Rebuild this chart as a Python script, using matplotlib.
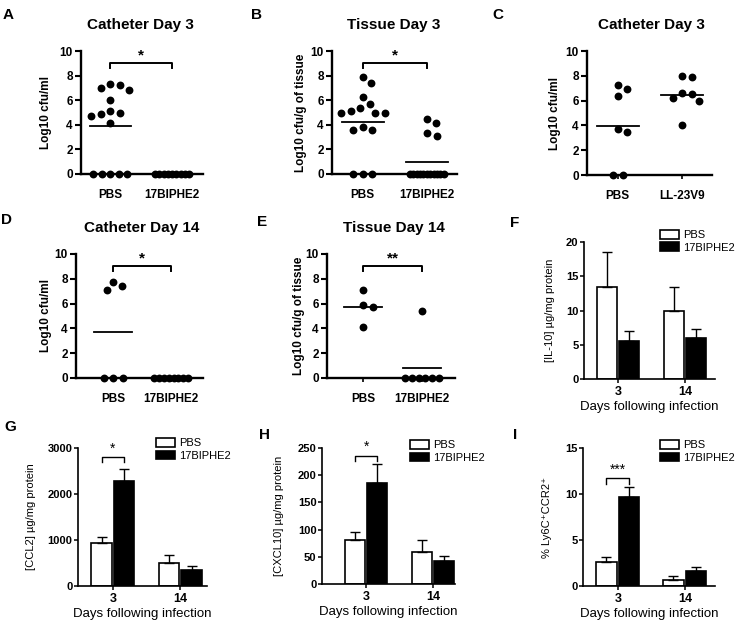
import numpy as np
import matplotlib
matplotlib.use("Agg")
import matplotlib.pyplot as plt
from matplotlib.patches import Patch

plt.rcParams['font.family'] = ['Liberation Sans', 'DejaVu Sans']

# ----------------------------
# Data
# ----------------------------
# A - Catheter Day 3
a_pbs = [7.2, 6.85, 7.0, 7.3, 6.0, 4.95, 4.7, 5.15, 4.85, 4.15, 0, 0, 0, 0, 0]
a_bip = [0, 0, 0, 0, 0, 0, 0, 0, 0]
# B - Tissue Day 3
b_pbs = [7.4, 7.85, 6.3, 5.35, 5.0, 4.95, 5.0, 5.1, 5.7, 3.55, 3.55, 3.85, 0, 0, 0]
b_bip = [4.15, 4.45, 3.3, 3.1, 0, 0, 0, 0, 0, 0, 0, 0, 0, 0, 0]
# C - Catheter Day 3, LL-23V9
c_pbs = [7.25, 6.9, 6.4, 3.75, 3.5, 0, 0]
c_ll = [7.9, 7.95, 6.6, 6.25, 5.95, 6.5, 4.0]
# D - Catheter Day 14
d_pbs = [7.4, 7.1, 7.75, 0, 0, 0]
d_bip = [0, 0, 0, 0, 0, 0, 0, 0]
# E - Tissue Day 14
e_pbs = [7.1, 5.85, 5.75, 4.1]
e_bip = [5.4, 0, 0, 0, 0, 0, 0]

days = ["3", "14"]
# F - IL-10
f_pbs, f_pbs_err = [13.5, 10.0], [5.1, 3.4]
f_bip, f_bip_err = [5.6, 6.0], [1.4, 1.3]
# G - CCL2
g_pbs, g_pbs_err = [925, 510], [145, 160]
g_bip, g_bip_err = [2285, 355], [265, 80]
# H - CXCL10
h_pbs, h_pbs_err = [81, 58], [14, 23]
h_bip, h_bip_err = [186, 42], [35, 9]
# I - Ly6C+CCR2+
i_pbs, i_pbs_err = [2.62, 0.69], [0.55, 0.37]
i_bip, i_bip_err = [9.65, 1.6], [1.15, 0.47]

W, H = 739, 620
fig = plt.figure(figsize=(W / 100, H / 100), dpi=100)


def px_axes(l, t, r, b):
    return fig.add_axes([l / W, 1 - b / H, (r - l) / W, (b - t) / H])


def swarm(vals, sx, sy, d=10.0, zero_max=34.0):
    # simple beeswarm offsets (in pixels), zero row spread evenly
    vals = np.asarray(vals, float)
    xs = np.zeros(len(vals))
    zero = vals == 0
    nz = zero.sum()
    if nz > 1:
        sp = min(9.5, zero_max / (nz - 1))
        xs[zero] = (np.arange(nz) - (nz - 1) / 2) * sp
    placed = []
    for i in np.argsort(-vals):
        if zero[i]:
            continue
        y = vals[i] * sy
        cands = [0.0]
        for (px_, py_) in placed:
            dy = y - py_
            if abs(dy) < d:
                dx = np.sqrt(d * d - dy * dy)
                cands += [px_ + dx, px_ - dx]
        cands.sort(key=abs)
        for c in cands:
            if all((c - px_) ** 2 + (y - py_) ** 2 >= d * d - 1e-6 for px_, py_ in placed):
                xs[i] = c
                break
        placed.append((xs[i], y))
    return xs / sx


def style_axes(ax, lw):
    for s in ['top', 'right']:
        ax.spines[s].set_visible(False)
    for s in ['left', 'bottom']:
        ax.spines[s].set_linewidth(lw)


def dot_panel(box, xlim, groups, labels, ylabel, ylab_x, stars=None):
    ax = px_axes(*box)
    sx = (box[2] - box[0]) / (xlim[1] - xlim[0])
    sy = (box[3] - box[1]) / 10.0
    for k, g in enumerate(groups):
        x = k + swarm(g, sx, sy)
        ax.scatter(x, g, s=32, c='black', linewidths=0, clip_on=False, zorder=3)
        m = np.mean(g)
        ax.plot([k - 0.33, k + 0.33], [m, m], color='black', lw=1.3, zorder=2)
    ax.set_xlim(*xlim)
    ax.set_ylim(0, 10)
    ax.set_yticks([0, 2, 4, 6, 8, 10])
    ax.set_xticks([0, 1])
    ax.set_xticklabels(labels, fontsize=8.5, fontweight='bold')
    ax.tick_params(axis='y', labelsize=8.5, width=1.5, length=4, pad=2)
    ax.tick_params(axis='x', width=1.2, length=3, pad=8)
    for t in ax.get_yticklabels():
        t.set_fontweight('bold')
    style_axes(ax, 1.7)
    fig.text(ylab_x / W, 1 - (box[1] + box[3]) / 2 / H, ylabel, rotation=90,
             ha='center', va='center', fontsize=8.5, fontweight='bold')
    if stars:
        ax.plot([0, 0, 1, 1], [8.6, 9.0, 9.0, 8.6], color='black', lw=1.4, clip_on=False)
        ax.text(0.5, 9.05, stars, ha='center', va='bottom', fontsize=11, fontweight='bold')
    return ax


def bar_panel(box, xlim, pbs, pbs_err, bip, bip_err, ymax, yticks, ylabel, ylab_x,
              leg_xy, stars=None, br_y=None):
    ax = px_axes(*box)
    x = np.arange(len(days))
    w, off = 0.3, 0.17
    ax.bar(x - off, pbs, w, color='white', edgecolor='black', linewidth=1.2,
           yerr=[np.zeros(len(pbs)), pbs_err], capsize=3.5,
           error_kw=dict(elinewidth=1, capthick=1, ecolor='black'), zorder=2)
    ax.bar(x + off, bip, w, color='black', edgecolor='black', linewidth=1.2,
           yerr=[np.zeros(len(bip)), bip_err], capsize=3.5,
           error_kw=dict(elinewidth=1, capthick=1, ecolor='black'), zorder=2)
    ax.set_xlim(*xlim)
    ax.set_ylim(0, ymax)
    ax.set_yticks(yticks)
    ax.set_xticks(x)
    ax.set_xticklabels(days, fontsize=9, fontweight='bold')
    ax.tick_params(axis='y', labelsize=8, width=1.1, length=3, pad=1)
    ax.tick_params(axis='x', width=1.1, length=3, pad=2)
    for t in ax.get_yticklabels():
        t.set_fontweight('bold')
    style_axes(ax, 1.2)
    ax.set_xlabel("Days following infection", fontsize=9.5, labelpad=2)
    fig.text(ylab_x / W, 1 - (box[1] + box[3]) / 2 / H, ylabel, rotation=90,
             ha='center', va='center', fontsize=8)
    if stars:
        lo = br_y - ymax * 0.04
        ax.plot([-off, -off, off, off], [lo, br_y, br_y, lo], color='black', lw=1, clip_on=False)
        ax.text(0, br_y + ymax * 0.01, stars, ha='center', va='bottom', fontsize=10)
    handles = [Patch(facecolor='white', edgecolor='black', linewidth=1.2),
               Patch(facecolor='black', edgecolor='black', linewidth=1.2)]
    fig.legend(handles, ["PBS", "17BIPHE2"], loc='upper left',
               bbox_to_anchor=(leg_xy[0] / W, 1 - leg_xy[1] / H), frameon=False,
               prop=dict(size=8), handlelength=1.7, handleheight=0.85,
               labelspacing=0.2, handletextpad=0.4, borderpad=0, borderaxespad=0)
    return ax


# ----------------------------
# Scatter panels
# ----------------------------
dot_panel((81, 51, 203, 174), (-0.47, 1.5), [a_pbs, a_bip], ["PBS", "17BIPHE2"],
          "Log10 cfu/ml", 46, stars="*")
dot_panel((332, 51, 457, 174), (-0.48, 1.47), [b_pbs, b_bip], ["PBS", "17BIPHE2"],
          "Log10 cfu/g of tissue", 301, stars="*")
dot_panel((587, 51, 712, 175), (-0.48, 1.47), [c_pbs, c_ll], ["PBS", "LL-23V9"],
          "Log10 cfu/ml", 555)
dot_panel((76, 254, 203, 378), (-0.64, 1.55), [d_pbs, d_bip], ["PBS", "17BIPHE2"],
          "Log10 cfu/ml", 46, stars="*")
dot_panel((327, 254, 455, 378), (-0.61, 1.56), [e_pbs, e_bip], ["PBS", "17BIPHE2"],
          "Log10 cfu/g of tissue", 299, stars="**")

# ----------------------------
# Bar panels
# ----------------------------
bar_panel((584, 242, 715, 379), (-0.51, 1.45), f_pbs, f_pbs_err, f_bip, f_bip_err,
          20, [0, 5, 10, 15, 20], "[IL-10] \u00b5g/mg protein", 550, (660, 230))
bar_panel((78, 448, 207, 586), (-0.52, 1.40), g_pbs, g_pbs_err, g_bip, g_bip_err,
          3000, [0, 1000, 2000, 3000], "[CCL2] \u00b5g/mg protein", 31, (156, 438),
          stars="*", br_y=2810)
bar_panel((322, 448, 455, 584), (-0.66, 1.33), h_pbs, h_pbs_err, h_bip, h_bip_err,
          250, [0, 50, 100, 150, 200, 250], "[CXCL10] \u00b5g/mg protein", 279, (410, 440),
          stars="*", br_y=236)
bar_panel((583, 448, 715, 586), (-0.52, 1.45), i_pbs, i_pbs_err, i_bip, i_bip_err,
          15, [0, 5, 10, 15], "% Ly6C\u207aCCR2\u207a", 547, (660, 440),
          stars="***", br_y=11.7)

# ----------------------------
# Titles and panel letters
# ----------------------------
titles = [("Catheter Day 3", 140, 25), ("Tissue Day 3", 394, 25), ("Catheter Day 3", 651, 25),
          ("Catheter Day 14", 142, 228), ("Tissue Day 14", 394, 228)]
for txt, x, y in titles:
    fig.text(x / W, 1 - y / H, txt, ha='center', va='center', fontsize=11, fontweight='bold')

letters = [("A", 8, 15), ("B", 257, 15), ("C", 498, 15), ("D", 6, 220), ("E", 262, 222),
           ("F", 515, 223), ("G", 10, 427), ("H", 265, 435), ("I", 515, 435)]
for txt, x, y in letters:
    fig.text(x / W, 1 - y / H, txt, ha='center', va='center', fontsize=11, fontweight='bold')

fig.savefig("out.png", dpi=100)
